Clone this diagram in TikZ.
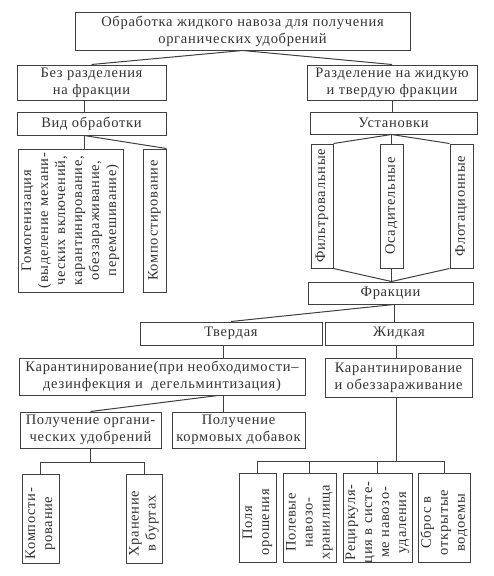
\documentclass[tikz,border=0pt]{standalone}
\usepackage{fontspec}
\setmainfont{Liberation Serif}
\newcommand{\dgfont}{\fontsize{14.5}{17}\selectfont\addfontfeature{LetterSpace=5}}
\begin{document}
\begin{tikzpicture}[x=1pt,y=-1pt,
  box/.style={draw=black!75, line width=1pt, inner sep=0pt, align=center,
    text=black!80, font=\dgfont},
  vtext/.style={rotate=90, inner sep=0pt, align=center, text=black!80,
    font=\dgfont},
  lowtext/.style={vtext, xshift=-5pt},
  conn/.style={draw=black!75, line width=1pt}]
\fill[white] (0,0) rectangle (493,576);
\useasboundingbox (0,0) rectangle (493,576);
% boxes
\node[box, minimum width=335, minimum height=38] (top) at (242.5,31)
  {Обработка жидкого навоза для получения\\органических удобрений};
\node[box, minimum width=149, minimum height=35] (bez) at (91.5,82.5)
  {Без разделения\\на фракции};
\node[box, minimum width=170, minimum height=35] (razd) at (392,82.5)
  {Разделение на жидкую\\и твердую фракции};
\node[box, minimum width=149, minimum height=23] (vid) at (91.5,123.5)
  {Вид обработки};
\node[box, minimum width=167, minimum height=22] (ust) at (393.5,123)
  {Установки};
\node[box, minimum width=105, minimum height=143] (gomo) at (70.5,220.5) {};
\node[vtext] (gomot) at (gomo)
  {Гомогенизация\\(выделение механи-\\ческих включений,\\карантинирование,\\обеззараживание,\\перемешивание)};
\node[box, minimum width=23, minimum height=143] (komp) at (154.5,220.5) {};
\node[vtext] (kompt) at (komp) {Компостирование};
\node[box, minimum width=22, minimum height=124] (filt) at (322,206) {};
\node[vtext] (filtt) at (filt) {Фильтровальные};
\node[box, minimum width=23, minimum height=124] (osad) at (391.5,206) {};
\node[vtext] (osadt) at (osad) {Осадительные};
\node[box, minimum width=23, minimum height=124] (flot) at (461.5,206) {};
\node[vtext] (flott) at (flot) {Флотационные};
\node[box, minimum width=165, minimum height=22] (frak) at (390.5,293) {Фракции};
\node[box, minimum width=182, minimum height=23] (tverd) at (231,333.5) {Твердая};
\node[box, minimum width=148, minimum height=23] (zhid) at (399,333.5) {Жидкая};
\node[box, minimum width=286, minimum height=37] (kar1) at (162,376.5)
  {Карантинирование(при необходимости–\\дезинфекция и\ \ дегельминтизация)};
\node[box, minimum width=147, minimum height=39] (kar2) at (398.5,377.5)
  {Карантинирование\\и обеззараживание};
\node[box, minimum width=141, minimum height=36] (polorg) at (90.5,430)
  {Получение органи-\\ческих удобрений};
\node[box, minimum width=133, minimum height=36] (polkorm) at (238.5,430)
  {Получение\\кормовых добавок};
\node[box, minimum width=37, minimum height=89] (kompo) at (40.5,518.5) {};
\node[lowtext] (kompot) at (kompo) {Компости-\\рование};
\node[box, minimum width=36, minimum height=89] (hran) at (144,518.5) {};
\node[lowtext] (hrant) at (hran) {Хранение\\в буртах};
\node[box, minimum width=37, minimum height=89] (pol) at (257.5,517.5) {};
\node[lowtext] (polt) at (pol) {Поля\\орошения};
\node[box, minimum width=53, minimum height=89] (polev) at (309.5,517.5) {};
\node[lowtext] (polevt) at (polev) {Полевые\\навозо-\\хранилища};
\node[box, minimum width=69, minimum height=89] (recirc) at (377.5,517.5) {};
\node[lowtext] (recirct) at (recirc) {Рециркуля-\\ция в систе-\\ме навозо-\\удаления};
\node[box, minimum width=52, minimum height=89] (sbros) at (444,517.5) {};
\node[lowtext] (sbrost) at (sbros) {Сброс в\\открытые\\водоемы};
% helper coordinates
\coordinate (v1) at (84,0);
\coordinate (v2) at (394,0);
\coordinate (v3) at (223,0);
\coordinate (v3b) at (218,0);
\coordinate (v4) at (396,0);
\coordinate (busL) at (0,462);
\coordinate (busR) at (0,461);
% connectors
\draw[conn] (top.south) -- (bez.north);
\draw[conn] (top.south) -- (razd.north);
\draw[conn] (bez.south -| v1) -- (vid.north -| v1);
\draw[conn] (vid.south -| v1) -- (gomo.north -| v1);
\draw[conn] (vid.south -| v1) -- (komp.north east);
\draw[conn] (razd.south) -- (ust.north -| razd.south);
\draw[conn] (ust.south -| osad) -- (osad.north);
\draw[conn] (ust.south -| osad) -- (filt.north east);
\draw[conn] (ust.south -| osad) -- (flot.north west);
\draw[conn] (osad.south) -- (frak.north -| osad);
\draw[conn] (filt.south east) -- (frak.north -| osad);
\draw[conn] (flot.south west) -- (frak.north -| osad);
\draw[conn] (frak.south -| v2) -- (zhid.north -| v2);
\draw[conn] (frak.south -| v2) -- (tverd.north);
\draw[conn] (tverd.south -| v3) -- (kar1.north -| v3);
\draw[conn] (kar1.south -| v3) -- (polkorm.north -| v3);
\draw[conn] (kar1.south -| v3b) -- (polorg.north);
\draw[conn] (zhid.south -| v4) -- (kar2.north -| v4);
\draw[conn] (kar2.south -| v4) -- (v4 |- busR);
\draw[conn] (pol.north) -- (pol.north |- busR) -- (sbros.north |- busR) -- (sbros.north);
\draw[conn] (polev.north) -- (polev.north |- busR);
\draw[conn] (recirc.north) -- (recirc.north |- busR);
\draw[conn] (polorg.south) -- (polorg.south |- busL);
\draw[conn] (kompo.north) -- (kompo.north |- busL) -- (hran.north |- busL) -- (hran.north);
\end{tikzpicture}
\end{document}
